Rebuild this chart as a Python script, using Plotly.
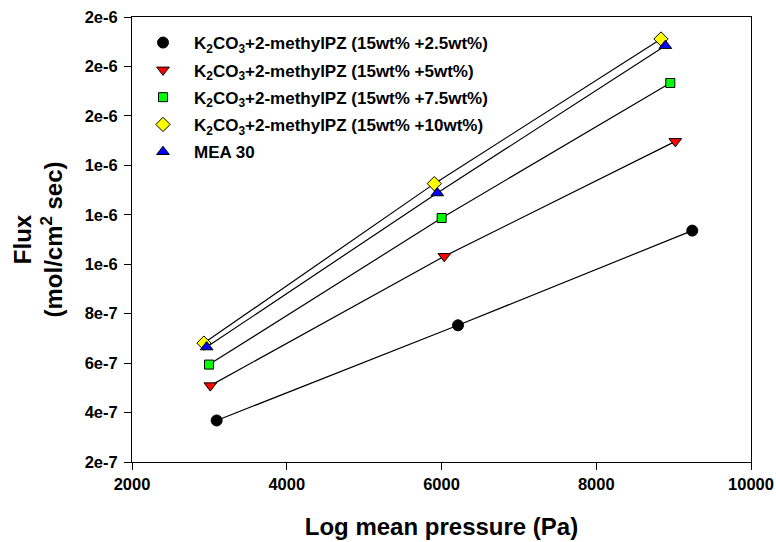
import plotly.graph_objects as go

# ---- data ----
series_names = [
    "K<sub>2</sub>CO<sub>3</sub>+2-methylPZ (15wt% +2.5wt%)",
    "K<sub>2</sub>CO<sub>3</sub>+2-methylPZ (15wt% +5wt%)",
    "K<sub>2</sub>CO<sub>3</sub>+2-methylPZ (15wt% +7.5wt%)",
    "K<sub>2</sub>CO<sub>3</sub>+2-methylPZ (15wt% +10wt%)",
    "MEA 30",
]
x_25 = [3094, 6213, 9241]
y_25 = [3.68e-7, 7.53e-7, 1.136e-6]
x_50 = [3012, 6036, 9022]
y_50 = [5.09e-7, 1.032e-6, 1.497e-6]
x_75 = [2995, 6002, 8957]
y_75 = [5.94e-7, 1.187e-6, 1.733e-6]
x_100 = [2930, 5907, 8837]
y_100 = [6.81e-7, 1.326e-6, 1.911e-6]
x_mea = [2965, 5946, 8893]
y_mea = [6.65e-7, 1.288e-6, 1.884e-6]

x_tickvals = [2000, 4000, 6000, 8000, 10000]
x_ticktext = ["2000", "4000", "6000", "8000", "10000"]
y_tickvals = [2e-7, 4e-7, 6e-7, 8e-7, 1.0e-6, 1.2e-6, 1.4e-6, 1.6e-6, 1.8e-6, 2.0e-6]
y_ticktext = ["2e-7", "4e-7", "6e-7", "8e-7", "1e-6", "1e-6", "1e-6", "2e-6", "2e-6", "2e-6"]

xs = [x_25, x_50, x_75, x_100, x_mea]
ys = [y_25, y_50, y_75, y_100, y_mea]
symbols = ["circle", "triangle-down", "square", "diamond", "triangle-up"]
colors = ["#000000", "#FF0000", "#00FF00", "#FFFF00", "#0000FF"]
sizes = [11, 11, 9, 11, 11]

fig = go.Figure()
# connecting lines (no legend entry)
for x, y in zip(xs, ys):
    fig.add_trace(go.Scatter(
        x=x, y=y, mode="lines", showlegend=False, hoverinfo="skip",
        line=dict(color="black", width=1.2),
    ))
# markers (legend entries)
for i, (name, x, y, sym, col, sz) in enumerate(zip(series_names, xs, ys, symbols, colors, sizes)):
    fig.add_trace(go.Scatter(
        x=x, y=y, name=name, mode="markers", legendgroup=f"g{i}",
        marker=dict(symbol=sym, color=col, size=sz,
                    line=dict(color="black", width=1)),
    ))

font_family = "Liberation Sans, Arial, sans-serif"
fig.update_layout(
    width=776, height=542,
    margin=dict(l=132, r=25, t=17, b=80, autoexpand=False),
    paper_bgcolor="white", plot_bgcolor="white",
    font=dict(family=font_family, color="black"),
    legend=dict(
        x=0.0, y=0.982, xanchor="left", yanchor="top",
        bgcolor="rgba(0,0,0,0)", borderwidth=0,
        itemwidth=52, tracegroupgap=2.2,
        font=dict(size=17, family=font_family, weight="bold"),
    ),
    showlegend=True,
)
fig.update_xaxes(
    range=[2000, 10000], tickvals=x_tickvals, ticktext=x_ticktext,
    showline=True, linecolor="black", linewidth=1, mirror=True,
    ticks="outside", ticklen=7, tickcolor="black",
    showgrid=False, zeroline=False, automargin=False,
    tickfont=dict(size=16.5, weight="bold"),
    title=dict(text="Log mean pressure (Pa)", font=dict(size=24, weight="bold"), standoff=26),
)
fig.update_yaxes(
    range=[2e-7, 2e-6], tickvals=y_tickvals, ticktext=y_ticktext,
    showline=True, linecolor="black", linewidth=1, mirror=True,
    ticks="outside", ticklen=7, tickcolor="black", ticklabelstandoff=3,
    showgrid=False, zeroline=False, automargin=False,
    tickfont=dict(size=16.5, weight="bold"),
    title=dict(text="Flux<br>(mol/cm<sup>2</sup> sec)", font=dict(size=24, weight="bold"), standoff=15),
)

fig.write_html("out.html", config={"displayModeBar": False},
               post_script="document.body.style.margin='0';")
